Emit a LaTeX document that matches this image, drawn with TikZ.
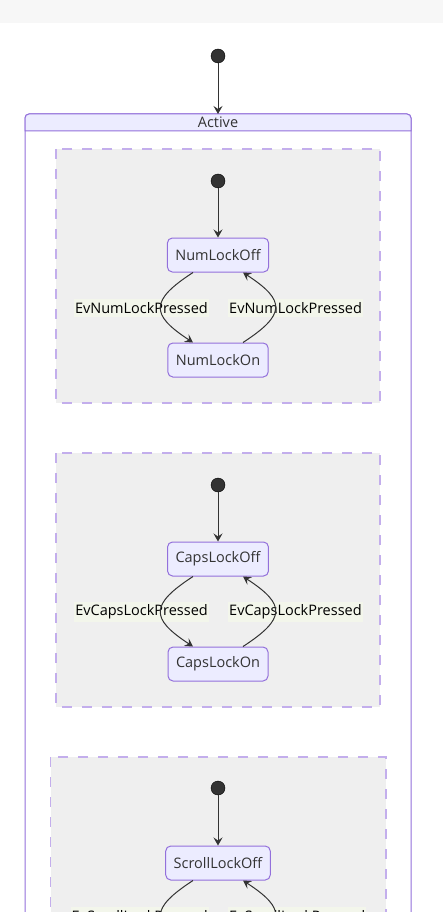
\documentclass[tikz,border=0pt]{standalone}
\usepackage{fontspec}
\setmainfont{Open Sans}
\usetikzlibrary{arrows.meta}

\definecolor{statefill}{HTML}{ECECFF}
\definecolor{stateline}{HTML}{9370DB}
\definecolor{clusterline}{HTML}{C3AEEC}
\definecolor{clusterfill}{HTML}{EFEFEF}
\definecolor{labelfill}{HTML}{F3F6EB}
\definecolor{darkdot}{HTML}{333333}
\definecolor{topband}{HTML}{F7F7F7}

\begin{document}
\begin{tikzpicture}[x=1pt, y=-1pt,
  font=\fontsize{14.5}{17}\selectfont,
  state/.style={draw=stateline, fill=statefill, rounded corners=5pt, line width=1pt,
    minimum height=34pt, inner xsep=8pt, text=darkdot},
  startdot/.style={circle, draw=black, fill=darkdot, minimum size=14pt, inner sep=0pt},
  evlabel/.style={fill=labelfill, inner xsep=1pt, inner ysep=3pt, text=black},
  trans/.style={-{Stealth[length=8pt, width=9pt, inset=3pt]}, draw=darkdot, line width=1pt},
  region/.style={draw=clusterline, fill=clusterfill, dash pattern=on 10pt off 10pt, line width=1.3pt}]

  \useasboundingbox (0,0) rectangle (443,912);
  \clip (0,0) rectangle (443,912);
  \fill[topband] (0,0) rectangle (443,23);

  % outer state
  \node[startdot] (start) at (218,56) {};
  \draw[draw=stateline, line width=1pt, fill=white, rounded corners=4pt] (25,114) rectangle (411,1200);
  \filldraw[draw=stateline, line width=1pt, fill=statefill] (25,131) [rounded corners=4pt] -- (25,114) -- (411,114) [sharp corners] -- (411,131) -- cycle;
  \coordinate (activetop) at (218,114);
  \node[text=darkdot] (active) at (218,122.5) {Active};
  \draw[trans] (start) -- (activetop);

  % num lock
  \draw[region] (56,149) rectangle (380,403);
  \node[startdot] (numstart) at (218,181) {};
  \node[state] (numoff) at (218,255) {NumLockOff};
  \node[state] (numon) at (218,360) {NumLockOn};
  \node[evlabel, anchor=east] (numpress) at (209,308) {EvNumLockPressed};
  \node[evlabel, anchor=west] (numpressback) at (228,308) {EvNumLockPressed};
  \draw[trans] (numstart) -- (numoff);
  \draw[trans] ([xshift=-25pt]numoff.south) .. controls +(-43,28) and +(-43,-28) .. ([xshift=-25pt]numon.north);
  \draw[trans] ([xshift=25pt]numon.north) .. controls +(43,-28) and +(43,28) .. ([xshift=25pt]numoff.south);

  % caps lock
  \draw[region] (56,453) rectangle (380,707);
  \node[startdot] (capsstart) at (218,485) {};
  \node[state] (capsoff) at (218,559) {CapsLockOff};
  \node[state] (capson) at (218,664) {CapsLockOn};
  \node[evlabel, anchor=east] (capspress) at (209,612) {EvCapsLockPressed};
  \node[evlabel, anchor=west] (capspressback) at (228,612) {EvCapsLockPressed};
  \draw[trans] (capsstart) -- (capsoff);
  \draw[trans] ([xshift=-25pt]capsoff.south) .. controls +(-43,28) and +(-43,-28) .. ([xshift=-25pt]capson.north);
  \draw[trans] ([xshift=25pt]capson.north) .. controls +(43,-28) and +(43,28) .. ([xshift=25pt]capsoff.south);

  % scroll lock
  \draw[region] (50.5,757) rectangle (386,1100);
  \node[startdot] (scrollstart) at (218,788) {};
  \node[state] (scrolloff) at (218,863) {ScrollLockOff};
  \node[state] (scrollon) at (218,968) {ScrollLockOn};
  \node[evlabel, anchor=east] (scrollpress) at (209,916) {EvScrollLockPressed};
  \node[evlabel, anchor=west] (scrollpressback) at (228,916) {EvScrollLockPressed};
  \draw[trans] (scrollstart) -- (scrolloff);
  \draw[trans] ([xshift=-25pt]scrolloff.south) .. controls +(-43,28) and +(-43,-28) .. ([xshift=-25pt]scrollon.north);
  \draw[trans] ([xshift=25pt]scrollon.north) .. controls +(43,-28) and +(43,28) .. ([xshift=25pt]scrolloff.south);

\end{tikzpicture}
\end{document}
